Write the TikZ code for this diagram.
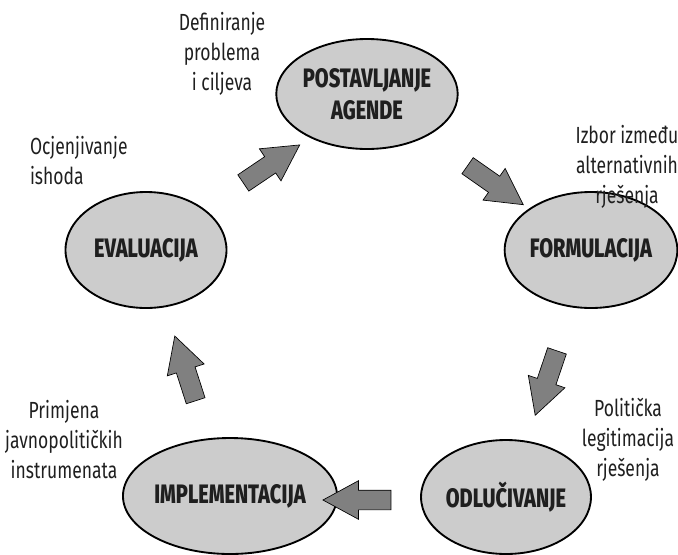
\documentclass[tikz,border=0pt]{standalone}
\usepackage{fontspec}
\setmainfont{Fira Sans}[FakeStretch=0.75, BoldFont={Fira Sans ExtraBold}]
\usetikzlibrary{shapes.geometric,shapes.arrows}

\definecolor{stagefill}{HTML}{CCCCCC}
\definecolor{arrowfill}{HTML}{808080}

\tikzset{
  stage/.style={ellipse, draw=black, line width=1.4pt, fill=stagefill,
    inner sep=0pt, align=center, font=\fontsize{20}{24}\selectfont\bfseries,
    text=black!88},
  size/.style 2 args={minimum width=#1*0.75pt, minimum height=#2*0.75pt},
  note/.style={align=center, inner sep=0pt, font=\fontsize{17.5}{22.5}\selectfont,
    text=black!88},
  flow/.style={single arrow, draw=black, line width=0.5pt, fill=arrowfill,
    minimum height=68*0.75pt, minimum width=38*0.75pt, inner sep=9.5*0.75pt,
    single arrow head extend=9.5*0.75pt, single arrow tip angle=57, anchor=center}
}

\begin{document}
\begin{tikzpicture}[x=0.75pt,y=-0.75pt,every node/.append style={outer sep=0pt}]
  \useasboundingbox (0,0) rectangle (678,554);

  % policy cycle stages
  \node[stage, size={161}{110}] (agenda) at (367,94) {POSTAVLJANJE\\AGENDE};
  \node[stage, size={162}{116}] (form)   at (591,250) {FORMULACIJA};
  \node[stage, size={162}{114}] (odl)    at (506,497) {ODLUČIVANJE};
  \node[stage, size={176}{116}] (impl)   at (230,496) {IMPLEMENTACIJA};
  \node[stage, size={161}{116}] (eval)   at (146,250) {EVALUACIJA};

  % block arrows between the stages
  \node[flow, rotate=34]    (a1) at (264,169) {};
  \node[flow, rotate=-35]   (a2) at (488,180) {};
  \node[flow, rotate=251.3] (a3) at (549,374.5) {};
  \node[flow, rotate=180]   (a4) at (366,500) {};
  \node[flow, rotate=107.9] (a5) at (188,377) {};

  % explanatory notes
  \node[note] (n1) at (222,54)  {Definiranje\\problema\\i ciljeva};
  \node[note] (n2) at (627,167) {Izbor između\\alternativnih\\rješenja};
  \node[note, align=left, anchor=west] (n3) at (30,161) {Ocjenjivanje\\ishoda};
  \node[note] (n4) at (628,440) {Politička\\legitimacija\\rješenja};
  \node[note] (n5) at (64,440)  {Primjena\\javnopolitičkih\\instrumenata};
\end{tikzpicture}
\end{document}
